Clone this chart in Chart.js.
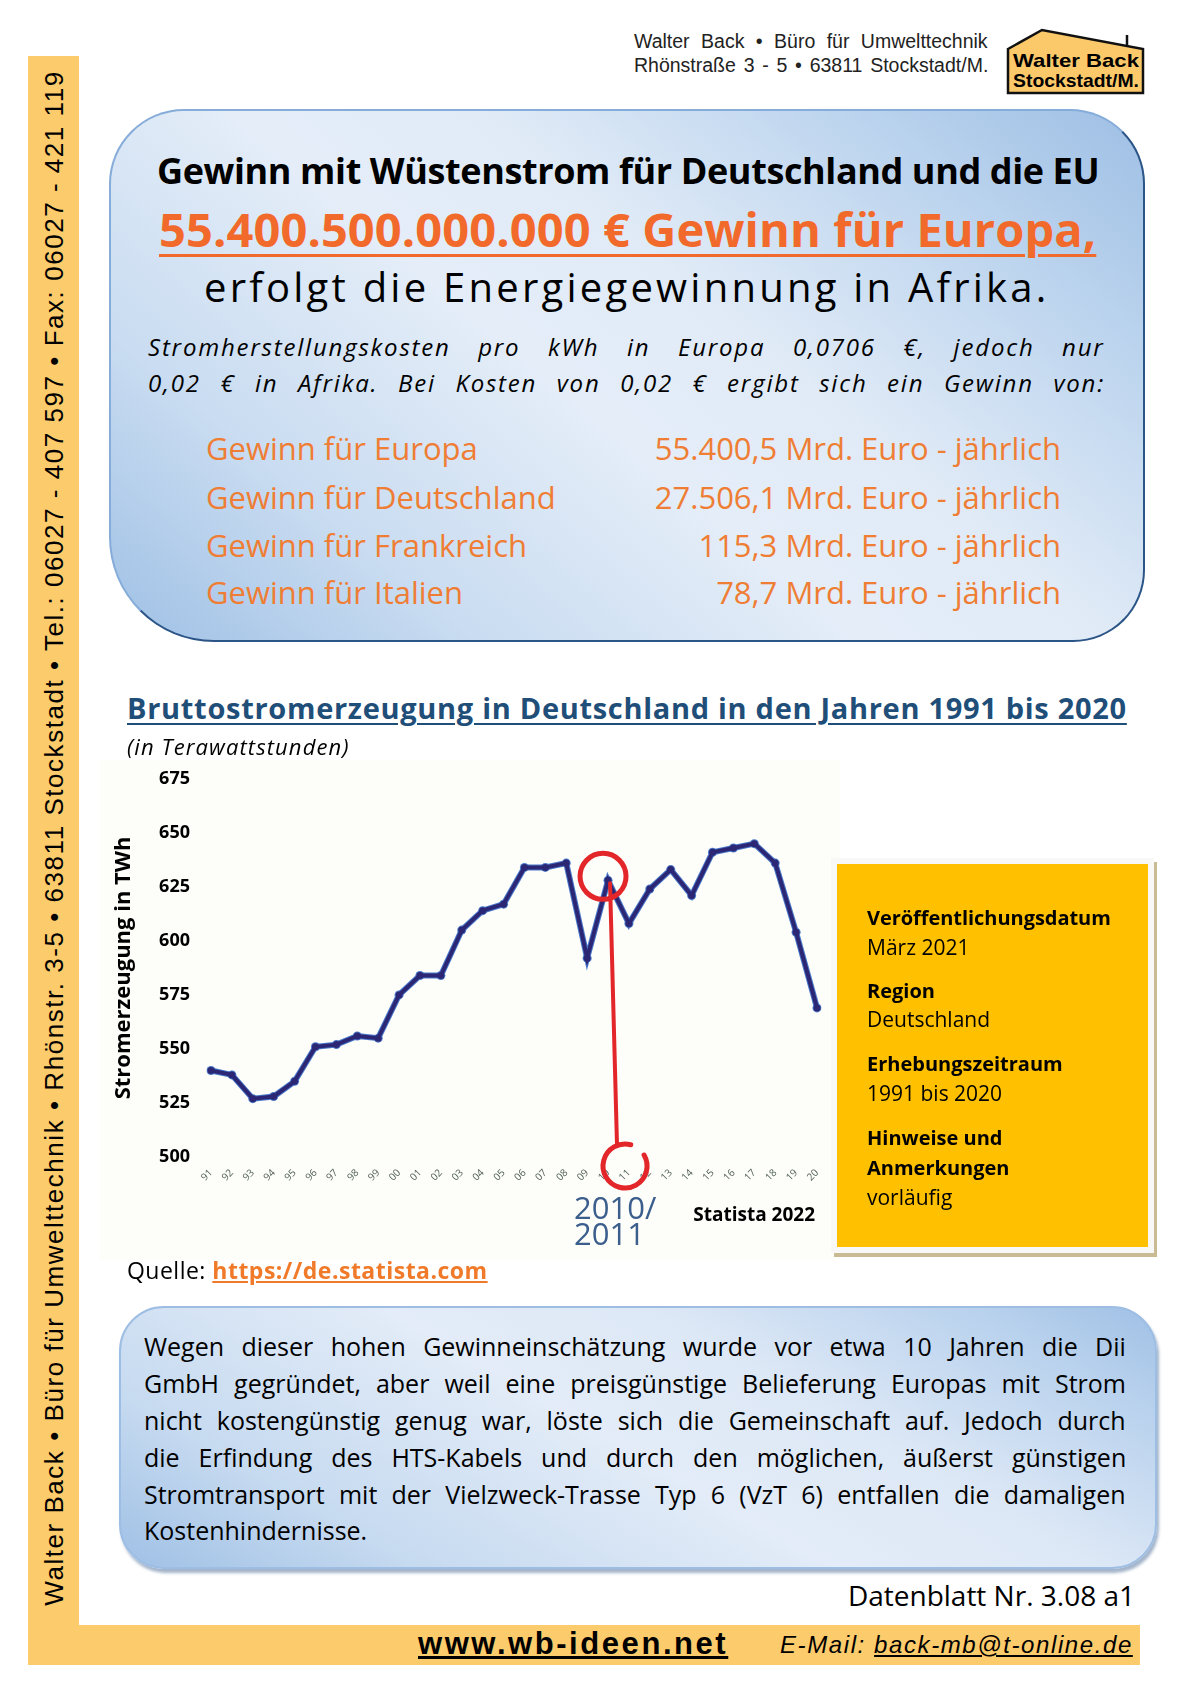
<!DOCTYPE html>
<html lang="de">
<head>
<meta charset="utf-8">
<title>Gewinn mit Wüstenstrom</title>
<script src="https://cdn.jsdelivr.net/npm/chart.js@4.4.1/dist/chart.umd.min.js"></script>
<style>
  html, body { margin:0; padding:0; }
  body { width:1200px; height:1698px; position:relative; background:#fff; font-family:"Open Sans", sans-serif; color:#000; overflow:hidden; }
  .a { position:absolute; white-space:nowrap; }
  .arial { font-family:"Liberation Sans", Arial, sans-serif; }
  .leiste { position:absolute; background:#fccb6b; }
  .box1 { position:absolute; left:109px; top:109px; width:1032px; height:529px;
          border-radius:75px 75px 72px 105px;
          background:linear-gradient(40deg, #9fc0e5 0%, #c9dcf1 22%, #e4edf8 45%, #e1ebf7 60%, #bcd4ee 82%, #9ebfe4 100%);
          border:2px solid #86acd9; border-right-color:#2b5487; border-bottom-color:#2b5487; }
  .box2 { position:absolute; left:119px; top:1306px; width:1034px; height:259px;
          border-radius:45px;
          background:linear-gradient(30deg, #9fc0e5 0%, #c6daf0 20%, #e3ecf8 48%, #dde8f6 66%, #b8d1ed 88%, #a0c0e5 100%);
          border:2px solid #9dbde3; box-shadow:2px 4px 3px rgba(90,120,160,0.55); }
  .gelb { position:absolute; left:837px; top:864px; width:311px; height:383px; background:#ffc000;
          box-shadow:0 0 0 6px #f8f8f6, 3px 4px 0 6px #c9bb93; }
  .gelb div { position:absolute; left:30px; font-size:21px; line-height:30px; white-space:nowrap; }
  .gelb b { font-weight:700; font-size:20px; }
  .orange { color:#ef7d34; font-size:31px; line-height:44px; }
  .txt { font-size:25px; line-height:36px; }
</style>
</head>
<body>

<!-- Rahmen links und unten -->
<div class="leiste" style="left:28px; top:56px; width:51px; height:1609px;"></div>
<div class="leiste" style="left:28px; top:1625px; width:1112px; height:40px;"></div>
<div class="a arial" data-w="1535" style="left:54px; top:838px; font-size:26px; line-height:30px; transform:translate(-50%,-50%) rotate(-90deg);">Walter Back • Büro für Umwelttechnik • Rhönstr. 3-5 • 63811 Stockstadt • Tel.: 06027 - 407 597 • Fax: 06027 - 421 119</div>

<!-- Kopf -->
<div class="a arial" data-w="354" data-m="ws" style="left:634px; top:30px; font-size:19.5px; line-height:22px; color:#222;">Walter Back • Büro für Umwelttechnik</div>
<div class="a arial" data-w="354" data-m="ws" style="left:634px; top:54px; font-size:19.5px; line-height:22px; color:#222;">Rhönstraße 3 - 5 • 63811 Stockstadt/M.</div>
<svg class="a" style="left:1005px; top:27px;" width="142" height="70" viewBox="0 0 142 70">
  <polygon points="3,22 37,3 138,22 138,66 3,66" fill="#fcc96a" stroke="#111" stroke-width="2.5"/>
  <line x1="122" y1="19" x2="122" y2="8" stroke="#111" stroke-width="2.5"/>
  <text x="8" y="40" textLength="126" lengthAdjust="spacingAndGlyphs" font-family="Liberation Sans Narrow, Liberation Sans, Arial" font-weight="bold" font-size="19">Walter Back</text>
  <text x="8" y="60" textLength="126" lengthAdjust="spacingAndGlyphs" font-family="Liberation Sans Narrow, Liberation Sans, Arial" font-weight="bold" font-size="19">Stockstadt/M.</text>
</svg>

<!-- Oberer Kasten -->
<div class="box1"></div>
<div class="a" data-w="942" style="left:157px; top:146px; font-size:36px; line-height:50px; font-weight:700;">Gewinn mit Wüstenstrom für Deutschland und die EU</div>
<div class="a" data-w="937" style="left:159px; top:197px; font-size:47px; line-height:64px; font-weight:700; color:#f26a2b; text-decoration:underline; text-decoration-thickness:3px; text-underline-offset:7px;">55.400.500.000.000 € Gewinn für Europa,</div>
<div class="a" data-w="846" style="left:204px; top:261px; font-size:40px; line-height:52px;">erfolgt die Energiegewinnung in Afrika.</div>
<div class="a" data-w="957" data-m="ws" style="left:148px; top:329px; font-size:24px; line-height:36px; font-style:italic; letter-spacing:1.8px;">Stromherstellungskosten pro kWh in Europa 0,0706 €, jedoch nur</div>
<div class="a" data-w="957" data-m="ws" style="left:148px; top:365px; font-size:24px; line-height:36px; font-style:italic; letter-spacing:1.8px;">0,02 € in Afrika. Bei Kosten von 0,02 € ergibt sich ein Gewinn von:</div>

<div class="a orange" style="left:206px; top:426px;">Gewinn für Europa</div>
<div class="a orange" style="left:206px; top:475px;">Gewinn für Deutschland</div>
<div class="a orange" style="left:206px; top:523px;">Gewinn für Frankreich</div>
<div class="a orange" style="left:206px; top:570px;">Gewinn für Italien</div>
<div class="a orange" style="right:139px; top:426px;">55.400,5 Mrd. Euro - jährlich</div>
<div class="a orange" style="right:139px; top:475px;">27.506,1 Mrd. Euro - jährlich</div>
<div class="a orange" style="right:139px; top:523px;">115,3 Mrd. Euro - jährlich</div>
<div class="a orange" style="right:139px; top:570px;">78,7 Mrd. Euro - jährlich</div>

<!-- Diagramm -->
<canvas id="chart" class="a" style="left:100px; top:747px;" width="740" height="513"></canvas>
<div class="a" data-w="1000" style="left:127px; top:688px; font-size:29px; line-height:40px; font-weight:700; color:#1f4e79; text-decoration:underline; text-decoration-thickness:2px; text-underline-offset:4px;">Bruttostromerzeugung in Deutschland in den Jahren 1991 bis 2020</div>
<div class="a" data-w="223" style="left:127px; top:732px; font-size:22px; line-height:28px; font-style:italic;">(in Terawattstunden)</div>

<div class="gelb">
  <div style="top:38px;" data-w="244"><b>Veröffentlichungsdatum</b></div>
  <div style="top:68px;">März 2021</div>
  <div style="top:111px;"><b>Region</b></div>
  <div style="top:140px;">Deutschland</div>
  <div style="top:184px;"><b>Erhebungszeitraum</b></div>
  <div style="top:214px;">1991 bis 2020</div>
  <div style="top:258px;"><b>Hinweise und</b></div>
  <div style="top:288px;"><b>Anmerkungen</b></div>
  <div style="top:318px;">vorläufig</div>
</div>

<div class="a" data-w="361" style="left:127px; top:1254px; font-size:23px; line-height:32px;">Quelle: <span style="color:#f07a2a; font-weight:700; text-decoration:underline;">https://de.statista.com</span></div>

<!-- Unterer Kasten -->
<div class="box2"></div>
<div class="a txt" data-w="982" data-m="ws" style="left:144px; top:1328px;">Wegen dieser hohen Gewinneinschätzung wurde vor etwa 10 Jahren die Dii</div>
<div class="a txt" data-w="982" data-m="ws" style="left:144px; top:1365px;">GmbH gegründet, aber weil eine preisgünstige Belieferung Europas mit Strom</div>
<div class="a txt" data-w="982" data-m="ws" style="left:144px; top:1402px;">nicht kostengünstig genug war, löste sich die Gemeinschaft auf. Jedoch durch</div>
<div class="a txt" data-w="982" data-m="ws" style="left:144px; top:1439px;">die Erfindung des HTS-Kabels und durch den möglichen, äußerst günstigen</div>
<div class="a txt" data-w="982" data-m="ws" style="left:144px; top:1476px;">Stromtransport mit der Vielzweck-Trasse Typ 6 (VzT 6) entfallen die damaligen</div>
<div class="a txt" style="left:144px; top:1512px;">Kostenhindernisse.</div>

<div class="a" style="right:65px; top:1577px; font-size:28px; line-height:36px;">Datenblatt Nr. 3.08 a1</div>

<!-- Fuss -->
<div class="a arial" data-w="310" style="left:418px; top:1627px; font-size:31px; line-height:34px; font-weight:700; text-decoration:underline;">www.wb-ideen.net</div>
<div class="a arial" data-w="353" style="left:780px; top:1628px; font-size:24px; line-height:34px; font-style:italic;">E-Mail: <span style="text-decoration:underline;">back-mb@t-online.de</span></div>

<script>
// Jahre 1991 - 2020 (Achsenbeschriftung wie im Original zweistellig)
var jahre = ['91', '92', '93', '94', '95', '96', '97', '98', '99', '00',
             '01', '02', '03', '04', '05', '06', '07', '08', '09', '10',
             '11', '12', '13', '14', '15', '16', '17', '18', '19', '20'];
// Bruttostromerzeugung in TWh
var twh = [540, 538, 527, 528, 535, 551, 552, 556, 555, 575,
           584, 584, 605, 614, 617, 634, 634, 636, 592, 628,
           608, 624, 633, 621, 641, 643, 645, 636, 604, 569];
var yTicks = [500, 525, 550, 575, 600, 625, 650, 675];
var markJahr = '10';

function passen() {
    var els = document.querySelectorAll('[data-w]');
    for (var k = 0; k < els.length; k++) {
        var el = els[k];
        var w = +el.getAttribute('data-w');
        var nat = el.offsetWidth;
        var txt = el.textContent;
        if (el.getAttribute('data-m') === 'ws') {
            var n = txt.split(' ').length - 1;
            el.style.wordSpacing = ((w - nat) / n) + 'px';
        } else {
            var ls = parseFloat(getComputedStyle(el).letterSpacing) || 0;
            el.style.letterSpacing = (ls + (w - nat) / txt.length) + 'px';
        }
    }
}

var anmerkung = {
    id: 'anmerkung',
    beforeDraw: function(chart) {
        var ctx = chart.ctx;
        ctx.save();
        ctx.fillStyle = '#fdfdfa';
        ctx.fillRect(0, 13, chart.width, chart.height - 13);
        ctx.restore();
    },
    afterDatasetsDraw: function(chart) {
        var ctx = chart.ctx, xs = chart.scales.x, ys = chart.scales.y;
        var i = jahre.indexOf(markJahr);
        var px = xs.getPixelForValue(i), py = ys.getPixelForValue(twh[i]);
        ctx.save();
        ctx.strokeStyle = '#e3262a';
        ctx.lineCap = 'round';
        ctx.lineWidth = 5;
        ctx.beginPath();
        ctx.arc(px - 5, py - 4, 23, 0, Math.PI * 2);
        ctx.stroke();
        ctx.lineWidth = 4;
        ctx.beginPath();
        ctx.moveTo(px + 2, py + 3);
        ctx.lineTo(px + 9, ys.bottom - 11);
        ctx.stroke();
        ctx.lineWidth = 5;
        ctx.beginPath();
        ctx.arc(px + 17, ys.bottom + 9, 22, -Math.PI / 6, 2 * Math.PI - 5 * Math.PI / 12);
        ctx.stroke();

        ctx.fillStyle = '#3b5e8c';
        ctx.font = '31px "Open Sans"';
        ctx.textBaseline = 'middle';
        ctx.textAlign = 'left';
        ctx.fillText('2010/', px - 34, ys.bottom + 53);
        ctx.fillText('2011', px - 34, ys.bottom + 79);
        ctx.fillStyle = '#000';
        ctx.font = 'bold 19px "Open Sans"';
        ctx.textAlign = 'right';
        ctx.fillText('Statista 2022', xs.right - 2, ys.bottom + 59);
        ctx.restore();
    }
};

window.addEventListener('load', function() {
    passen();

    Chart.defaults.font.family = '"Open Sans", sans-serif';
    new Chart(document.getElementById('chart'), {
        type: 'line',
        data: {
            labels: jahre,
            datasets: [{
                data: twh,
                borderColor: '#2b2775',
                backgroundColor: '#2b2775',
                borderWidth: 4,
                pointRadius: 3.5,
                pointBorderWidth: 0,
                tension: 0,
                order: 0
            }, {
                data: twh,
                borderColor: '#4a78c8',
                backgroundColor: '#4a78c8',
                borderWidth: 6,
                pointRadius: 4.5,
                pointBorderWidth: 0,
                tension: 0,
                order: 1
            }]
        },
        options: {
            responsive: false,
            animation: false,
            devicePixelRatio: 1,
            layout: { padding: { top: 5, right: 23, left: 0, bottom: 0 } },
            plugins: {
                legend: { display: false },
                tooltip: { enabled: false }
            },
            scales: {
                x: {
                    offset: false,
                    grid: { display: false },
                    border: { display: false },
                    ticks: {
                        autoSkip: false,
                        minRotation: 45,
                        maxRotation: 45,
                        padding: 2,
                        color: '#4f5f55',
                        font: { size: 10 }
                    },
                    afterFit: function(scale) { scale.height = 103; }
                },
                y: {
                    min: 500,
                    max: 675,
                    grid: { display: false, drawTicks: false },
                    border: { display: false },
                    afterBuildTicks: function(scale) {
                        scale.ticks = yTicks.map(function(v) { return { value: v }; });
                    },
                    ticks: {
                        padding: 21,
                        color: '#000',
                        font: { size: 18, weight: 'bold' }
                    },
                    title: {
                        display: true,
                        text: 'Stromerzeugung in TWh',
                        color: '#000',
                        font: { size: 22, weight: 'bold' },
                        padding: { top: 11, bottom: 0 }
                    },
                    afterFit: function(scale) { scale.width = 111; }
                }
            }
        },
        plugins: [anmerkung]
    });
});
</script>
</body>
</html>
